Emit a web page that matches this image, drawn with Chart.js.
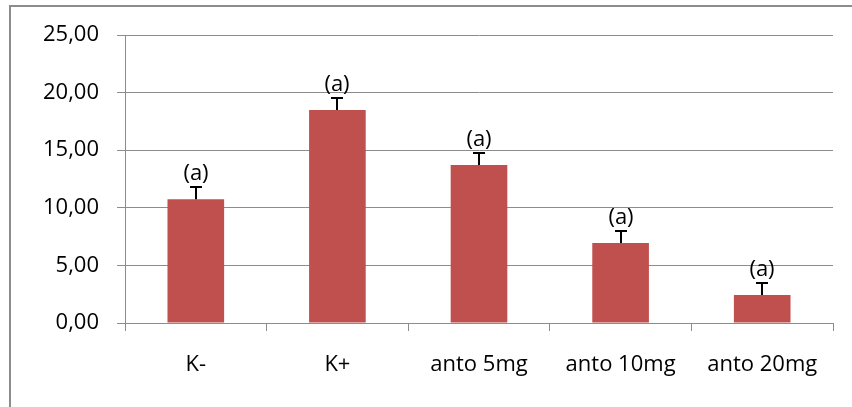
<!DOCTYPE html>
<html>
<head>
<meta charset="utf-8">
<script src="https://cdn.jsdelivr.net/npm/chart.js@4.4.0/dist/chart.umd.min.js"></script>
<style>
    html, body { margin: 0; padding: 0; background: #fff; overflow: hidden; }
    #wrap { position: relative; width: 852px; height: 407px; overflow: hidden; }
    #frame {
        position: absolute; left: 9px; top: 5px; width: 1000px; height: 1000px;
        border: 2px solid #8c8c8c; box-sizing: border-box;
    }
    #chart { position: absolute; left: 0; top: 0; }
</style>
</head>
<body>
<div id="wrap">
    <div id="frame"></div>
    <canvas id="chart" width="852" height="407"></canvas>
</div>
<script>
const categories = ['K-', 'K+', 'anto 5mg', 'anto 10mg', 'anto 20mg'];
const means = [10.74, 18.49, 13.72, 6.94, 2.43];
const errors = [1.03, 1.02, 1.04, 1.04, 1.04];
const letters = ['(a)', '(a)', '(a)', '(a)', '(a)'];
const yTicks = [0, 5, 10, 15, 20, 25];

const FONT = '"Open Sans", "Noto Sans", sans-serif';

// draws the up-only error bars and the letters above them
const errorBarPlugin = {
    id: 'errorBars',
    afterDatasetsDraw: function (chart) {
        const { ctx } = chart;
        const meta = chart.getDatasetMeta(0);
        const yScale = chart.scales.y;
        ctx.save();
        meta.data.forEach(function (bar, i) {
            const x = Math.round(bar.x);
            const top = yScale.getPixelForValue(means[i]);
            const capY = Math.round(yScale.getPixelForValue(means[i] + errors[i]));
            ctx.strokeStyle = '#000';
            ctx.lineWidth = 2;
            ctx.beginPath();
            ctx.moveTo(x, top);
            ctx.lineTo(x, capY);
            ctx.moveTo(x - 6, capY);
            ctx.lineTo(x + 6, capY);
            ctx.stroke();

            ctx.font = '22px ' + FONT;
            ctx.fillStyle = '#000';
            ctx.textAlign = 'center';
            ctx.textBaseline = 'alphabetic';
            ctx.fillText(letters[i], x, capY - 7);
        });
        ctx.restore();
    }
};

new Chart(document.getElementById('chart').getContext('2d'), {
    type: 'bar',
    data: {
        labels: categories,
        datasets: [{
            data: means,
            backgroundColor: '#c0504d',
            borderWidth: 0,
            barPercentage: 0.4,
            categoryPercentage: 1.0
        }]
    },
    options: {
        responsive: false,
        animation: false,
        layout: { padding: { left: 0, right: 19, top: 35, bottom: 0 } },
        plugins: {
            legend: { display: false },
            tooltip: { enabled: false }
        },
        scales: {
            x: {
                grid: {
                    offset: true,
                    drawOnChartArea: false,
                    drawTicks: true,
                    tickLength: 8,
                    color: '#8c8c8c'
                },
                border: { color: '#8c8c8c', width: 1 },
                ticks: {
                    color: '#000',
                    font: { family: FONT, size: 22 },
                    padding: 21,
                    maxRotation: 0
                },
                afterFit: function (scale) { scale.height = 84; }
            },
            y: {
                min: 0,
                max: 25,
                afterBuildTicks: function (scale) {
                    scale.ticks = yTicks.map(function (v) { return { value: v }; });
                },
                grid: {
                    color: '#8c8c8c',
                    lineWidth: 1,
                    tickLength: 8
                },
                border: { color: '#8c8c8c', width: 1 },
                ticks: {
                    color: '#000',
                    font: { family: FONT, size: 22 },
                    padding: 18,
                    callback: function (v) { return v.toFixed(2).replace('.', ','); }
                },
                afterFit: function (scale) { scale.width = 125; }
            }
        }
    },
    plugins: [errorBarPlugin]
});
</script>
</body>
</html>
